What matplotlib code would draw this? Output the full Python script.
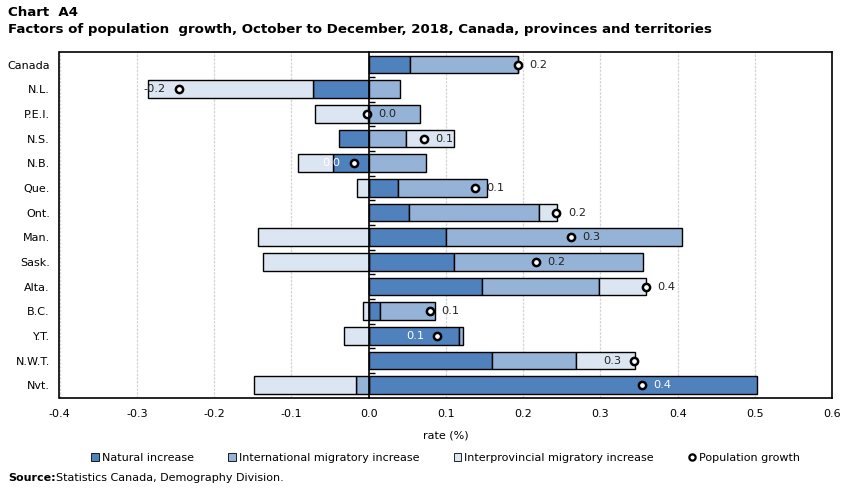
import matplotlib
matplotlib.use("Agg")
import matplotlib.pyplot as plt
import numpy as np
from matplotlib.patches import Patch
from matplotlib.lines import Line2D

plt.rcParams['font.family'] = ['DejaVu Sans']

regions = ["Canada", "N.L.", "P.E.I.", "N.S.", "N.B.", "Que.", "Ont.", "Man.",
           "Sask.", "Alta.", "B.C.", "Y.T.", "N.W.T.", "Nvt."]
natural = [0.053, -0.072, -0.001, -0.038, -0.046, 0.038, 0.052, 0.100,
           0.110, 0.147, 0.015, 0.117, 0.160, 0.503]
international = [0.140, 0.041, 0.067, 0.048, 0.074, 0.115, 0.168, 0.306,
                 0.245, 0.151, 0.071, 0.005, 0.108, -0.016]
interprovincial = [0.000, -0.214, -0.068, 0.062, -0.046, -0.015, 0.024, -0.143,
                   -0.137, 0.061, -0.007, -0.032, 0.077, -0.132]
growth = [0.193, -0.246, -0.002, 0.072, -0.019, 0.138, 0.243, 0.262,
          0.217, 0.359, 0.079, 0.089, 0.344, 0.354]
growth_labels = ["0.2", "-0.2", "0.0", "0.1", "0.0", "0.1", "0.2", "0.3",
                 "0.2", "0.4", "0.1", "0.1", "0.3", "0.4"]
label_side = ["r", "l", "r", "r", "l", "r", "r", "r", "r", "r", "r", "l", "l", "r"]
label_white = [False, False, False, False, True, False, False, False,
               False, False, False, True, False, True]
xticks = [-0.4, -0.3, -0.2, -0.1, 0.0, 0.1, 0.2, 0.3, 0.4, 0.5, 0.6]

c_nat = "#4F81BD"
c_int = "#95B3D7"
c_ipr = "#DCE6F2"

fig = plt.figure(figsize=(8.51, 4.92), dpi=100)
ax = fig.add_axes([59.5 / 851, 1 - 398 / 492, (832.3 - 59.5) / 851, (398 - 51.7) / 492])

y = np.arange(len(regions))
h = 0.71
nat = np.array(natural)
intl = np.array(international)
ipr = np.array(interprovincial)

pos_base = np.zeros(len(y))
neg_base = np.zeros(len(y))
for vals, col in [(nat, c_nat), (intl, c_int), (ipr, c_ipr)]:
    left = np.where(vals >= 0, pos_base, neg_base)
    ax.barh(y, vals, left=left, height=h, color=col, edgecolor="black",
            linewidth=1.0, zorder=3)
    pos_base = pos_base + np.where(vals >= 0, vals, 0)
    neg_base = neg_base + np.where(vals < 0, vals, 0)

ax.plot(growth, y, linestyle="none", marker="o", markersize=5.2,
        markerfacecolor="white", markeredgecolor="black", markeredgewidth=1.8,
        zorder=5)

for i, (g, lab, side, wh) in enumerate(zip(growth, growth_labels, label_side, label_white)):
    off = 8.2 if side == "r" else -9.5
    ha = "left" if side == "r" else "right"
    ax.annotate(lab, (g, i), xytext=(off, 0), textcoords="offset points",
                ha=ha, va="center", fontsize=8.2,
                color="white" if wh else "#222222", zorder=6)

ax.set_xlim(-0.4, 0.6)
ax.set_ylim(len(regions) - 0.48, -0.52)
ax.set_xticks(xticks)
ax.set_xticklabels([f"{t:.1f}" for t in xticks], fontsize=8)
ax.set_yticks(y)
ax.set_yticklabels(regions, fontsize=8)
ax.tick_params(axis="both", length=0, pad=8)
ax.tick_params(axis="y", pad=7)
ax.xaxis.grid(True, color="#d4d4d4", linewidth=0.9, linestyle=(0, (2, 1)), zorder=0)
ax.set_axisbelow(True)
for s in ["top", "bottom", "left", "right"]:
    ax.spines[s].set_linewidth(1.2)
    ax.spines[s].set_color("black")
ax.set_xlabel("rate (%)", fontsize=8, labelpad=8)

sec = ax.secondary_yaxis(0.4)
sec.set_yticks(np.arange(0.5, len(regions) - 1, 1.0))
sec.set_yticklabels([])
sec.tick_params(direction="in", length=4, width=1)
sec.spines["left"].set_linewidth(1.2)
sec.set_zorder(10)

handles = [Patch(facecolor=c_nat, edgecolor="black", linewidth=0.6),
           Patch(facecolor=c_int, edgecolor="black", linewidth=0.6),
           Patch(facecolor=c_ipr, edgecolor="black", linewidth=0.6),
           Line2D([], [], linestyle="none", marker="o", markersize=4.5,
                  markerfacecolor="white", markeredgecolor="black", markeredgewidth=1.6)]
labels = ["Natural increase", "International migratory increase",
          "Interprovincial migratory increase", "Population growth"]
fig.legend(handles, labels, loc="center", bbox_to_anchor=(0.5235, 1 - 458 / 492),
           ncol=4, frameon=False, fontsize=8, handlelength=0.7, handleheight=0.7,
           handletextpad=0.25, columnspacing=3.1)

fig.text(8 / 851, 1 - 12 / 492, "Chart  A4", fontsize=9.6, fontweight="bold", va="center")
fig.text(8 / 851, 1 - 30 / 492,
         "Factors of population  growth, October to December, 2018, Canada, provinces and territories",
         fontsize=9.6, fontweight="bold", va="center")
fig.text(8 / 851, 1 - 478 / 492, "Source:", fontsize=8, fontweight="bold", va="center")
fig.text(56 / 851, 1 - 478 / 492, "Statistics Canada, Demography Division.", fontsize=8, va="center")

fig.savefig("out.png", dpi=100)
